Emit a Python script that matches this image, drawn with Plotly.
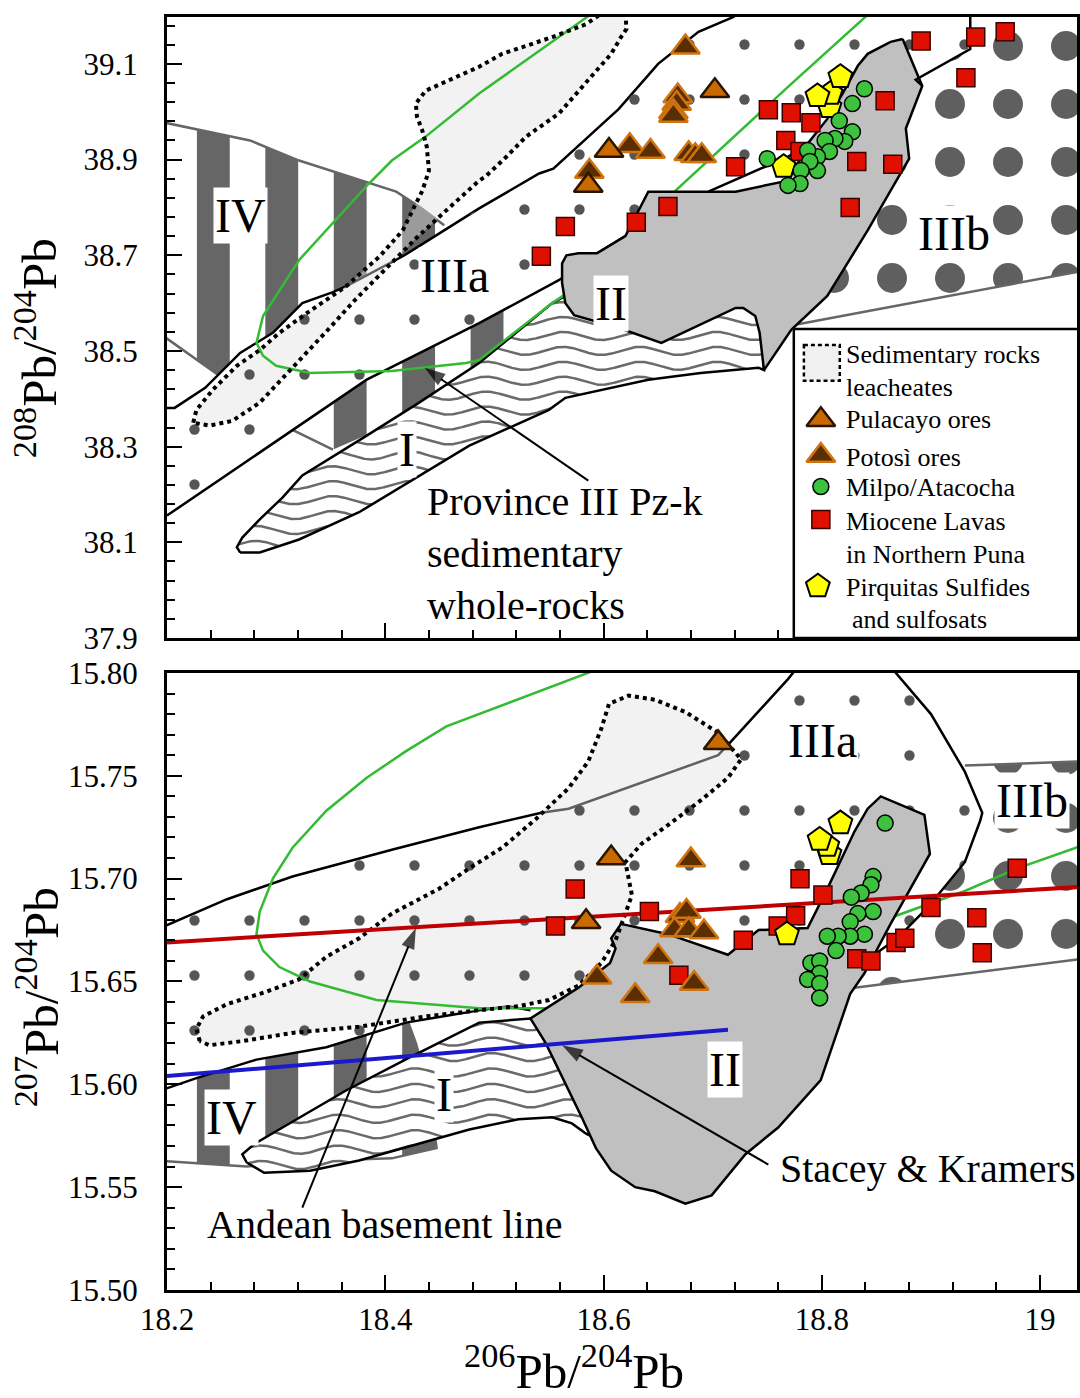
import numpy as np
import plotly.graph_objects as go

SERIF = "Liberation Serif"

# ---------------- axes ----------------
X_RANGE = [18.2, 19.0338]
Y208_RANGE = [37.9, 39.198]
Y207_RANGE = [15.5, 15.8]

# ============ 208Pb/204Pb panel : province outlines ============
IV_A_X = [18.19, 18.276, 18.321, 18.388, 18.410, 18.431, 18.454, 18.522, 18.513, 18.477, 18.431, 18.352, 18.248, 18.19]
IV_A_Y = [38.981, 38.940, 38.898, 38.850, 38.833, 38.802, 38.763, 38.600, 38.485, 38.433, 38.371, 38.294, 38.448, 38.542]
IV_A_TOP_X = [18.19, 18.276, 18.321, 18.388, 18.410, 18.431, 18.454]
IV_A_TOP_Y = [38.981, 38.940, 38.898, 38.850, 38.833, 38.802, 38.763]
IV_A_LOW_X = [18.19, 18.248, 18.315, 18.352]
IV_A_LOW_Y = [38.542, 38.448, 38.335, 38.294]

IIIB_A_X = [18.755, 18.784, 19.038, 19.038, 18.936, 18.936, 18.886, 18.860, 18.815, 18.769]
IIIB_A_Y = [38.517, 38.563, 38.667, 39.215, 39.215, 39.131, 39.067, 38.975, 38.808, 38.600]
IIIB_A_LOW_X = [18.778, 19.038]
IIIB_A_LOW_Y = [38.556, 38.667]

IIIA_A_X = [18.200, 18.207, 18.235, 18.267, 18.297, 18.324, 18.352, 18.364, 18.416, 18.431, 18.486, 18.541,
            18.554, 18.614, 18.650, 18.687, 18.719, 18.728, 18.936, 18.936, 18.886, 18.833, 18.778, 18.696,
            18.641, 18.623, 18.594, 18.559, 18.486, 18.383, 18.315, 18.200]
IIIA_A_Y = [38.381, 38.381, 38.423, 38.496, 38.538, 38.600, 38.623, 38.635, 38.698, 38.719, 38.798, 38.871,
            38.881, 39.006, 39.100, 39.167, 39.198, 39.215, 39.215, 39.131, 39.067, 39.017, 38.917, 38.833,
            38.808, 38.725, 38.704, 38.648, 38.558, 38.440, 38.335, 38.156]
LINE_A_X = IIIA_A_X[:18]
LINE_A_Y = IIIA_A_Y[:18]
LINE_B_X = [18.200, 18.315, 18.383, 18.486, 18.559, 18.594, 18.620]
LINE_B_Y = [38.156, 38.335, 38.440, 38.558, 38.648, 38.704, 38.740]
LINE_B2_X = [18.696, 18.769, 18.778]
LINE_B2_Y = [38.833, 38.906, 38.917]
IIIA_IIIB_A_X = [18.936, 18.936, 18.886, 18.892]
IIIA_IIIB_A_Y = [39.215, 39.131, 39.067, 39.054]

SED_A_X = [18.224, 18.227, 18.242, 18.264, 18.285, 18.303, 18.328, 18.364, 18.395, 18.416, 18.425, 18.434,
           18.440, 18.438, 18.434, 18.429, 18.428, 18.437, 18.486, 18.507, 18.553, 18.584, 18.600, 18.620,
           18.621, 18.616, 18.607, 18.586, 18.559, 18.529, 18.511, 18.492, 18.486, 18.456, 18.428, 18.401,
           18.372, 18.349, 18.315, 18.285, 18.260, 18.239]
SED_A_Y = [38.350, 38.377, 38.419, 38.469, 38.502, 38.538, 38.579, 38.635, 38.698, 38.752, 38.794, 38.835,
           38.877, 38.927, 38.960, 38.990, 39.017, 39.044, 39.094, 39.121, 39.156, 39.183, 39.208, 39.208,
           39.173, 39.156, 39.121, 39.065, 38.996, 38.948, 38.906, 38.865, 38.856, 38.794, 38.735, 38.673,
           38.606, 38.548, 38.465, 38.392, 38.354, 38.344]

I_A_X = [18.267, 18.264, 18.269, 18.285, 18.306, 18.324, 18.383, 18.431, 18.486, 18.553, 18.565, 18.632,
         18.723, 18.746, 18.747, 18.742, 18.689, 18.641, 18.565, 18.550, 18.477, 18.376, 18.321, 18.285]
I_A_Y = [38.079, 38.090, 38.110, 38.148, 38.194, 38.240, 38.323, 38.392, 38.475, 38.600, 38.615, 38.642,
         38.642, 38.600, 38.460, 38.465, 38.454, 38.440, 38.402, 38.377, 38.302, 38.163, 38.106, 38.079]

II_A_X = [18.874, 18.892, 18.877, 18.880, 18.863, 18.842, 18.805, 18.772, 18.747, 18.743, 18.739, 18.728,
          18.721, 18.687, 18.653, 18.614, 18.573, 18.565, 18.562, 18.562, 18.566, 18.577, 18.594, 18.620,
          18.641, 18.696, 18.721, 18.769, 18.778, 18.787, 18.805, 18.819, 18.833, 18.842, 18.863]
II_A_Y = [39.152, 39.054, 38.965, 38.902, 38.835, 38.752, 38.615, 38.544, 38.460, 38.538, 38.573, 38.590,
          38.590, 38.554, 38.517, 38.548, 38.575, 38.600, 38.642, 38.683, 38.700, 38.704, 38.704, 38.740,
          38.833, 38.833, 38.833, 38.856, 38.892, 38.933, 38.985, 39.038, 39.096, 39.121, 39.146]

GREEN_A_X = [18.591, 18.486, 18.437, 18.406, 18.385, 18.352, 18.321, 18.288, 18.282, 18.288, 18.300, 18.331,
             18.406, 18.474, 18.486, 18.553, 18.614, 18.666, 18.769, 18.848]
GREEN_A_Y = [39.208, 39.038, 38.948, 38.898, 38.850, 38.767, 38.690, 38.573, 38.517, 38.490, 38.469, 38.454,
             38.458, 38.475, 38.481, 38.600, 38.694, 38.835, 39.052, 39.215]

# ============ 207Pb/204Pb panel : province outlines ============
IV_B_X = [18.19, 18.417, 18.428, 18.440, 18.447, 18.406, 18.346, 18.273, 18.19]
IV_B_Y = [15.609, 15.636, 15.620, 15.597, 15.569, 15.564, 15.563, 15.560, 15.563]
IV_B_EDGE_X = [18.19, 18.273, 18.346, 18.406, 18.447, 18.440, 18.428, 18.417]
IV_B_EDGE_Y = [15.563, 15.560, 15.563, 15.564, 15.569, 15.597, 15.620, 15.636]

IIIB_B_X = [18.931, 18.947, 18.945, 18.931, 18.897, 18.869, 18.842, 18.819, 18.830, 19.038, 19.038]
IIIB_B_Y = [15.755, 15.732, 15.728, 15.708, 15.686, 15.671, 15.667, 15.648, 15.647, 15.661, 15.757]
IIIB_B_UP_X = [18.931, 19.038]
IIIB_B_UP_Y = [15.755, 15.757]
IIIB_B_LOW_X = [18.830, 19.038]
IIIB_B_LOW_Y = [15.647, 15.661]

IIIA_B_X = [18.194, 18.255, 18.315, 18.364, 18.406, 18.486, 18.543, 18.568, 18.705, 18.714, 18.769, 18.778,
            18.863, 18.863, 18.900, 18.931, 18.947, 18.945, 18.931, 18.897, 18.869, 18.848, 18.796, 18.595,
            18.533, 18.513, 18.486, 18.419, 18.346, 18.282, 18.227, 18.194]
IIIA_B_Y = [15.676, 15.690, 15.701, 15.708, 15.714, 15.725, 15.732, 15.734, 15.760, 15.765, 15.797, 15.803,
            15.803, 15.8005, 15.780, 15.752, 15.732, 15.728, 15.708, 15.686, 15.671, 15.663, 15.645, 15.616,
            15.632, 15.638, 15.636, 15.630, 15.618, 15.612, 15.603, 15.597]
IIIA_B_UPPER_X = IIIA_B_X[:12]
IIIA_B_UPPER_Y = IIIA_B_Y[:12]
IIIA_B_RIGHT_X = [18.863, 18.900, 18.931, 18.947, 18.945, 18.931, 18.897, 18.869, 18.848]
IIIA_B_RIGHT_Y = [15.803, 15.780, 15.752, 15.732, 15.728, 15.708, 15.686, 15.671, 15.663]
IIIA_B_LOWER_X = [18.194, 18.227, 18.282, 18.346, 18.419, 18.486, 18.513, 18.533]
IIIA_B_LOWER_Y = [15.597, 15.603, 15.612, 15.618, 15.630, 15.636, 15.638, 15.636]

SED_B_X = [18.230, 18.227, 18.233, 18.255, 18.291, 18.321, 18.346, 18.376, 18.406, 18.449, 18.477, 18.507,
           18.538, 18.568, 18.586, 18.598, 18.605, 18.623, 18.647, 18.675, 18.705, 18.726, 18.714, 18.689,
           18.659, 18.635, 18.620, 18.623, 18.626, 18.620, 18.611, 18.598, 18.577, 18.550, 18.522, 18.486,
           18.437, 18.376, 18.315, 18.269, 18.239]
SED_B_Y = [15.621, 15.627, 15.633, 15.639, 15.645, 15.651, 15.662, 15.671, 15.683, 15.695, 15.705, 15.715,
           15.729, 15.744, 15.757, 15.773, 15.785, 15.789, 15.787, 15.781, 15.771, 15.758, 15.749, 15.738,
           15.726, 15.717, 15.708, 15.700, 15.692, 15.683, 15.670, 15.659, 15.648, 15.641, 15.638, 15.636,
           15.633, 15.628, 15.625, 15.621, 15.619]

I_B_X = [18.273, 18.269, 18.280, 18.315, 18.364, 18.422, 18.486, 18.533, 18.559, 18.586, 18.588, 18.584,
         18.571, 18.553, 18.522, 18.477, 18.437, 18.376, 18.331, 18.289]
I_B_Y = [15.562, 15.566, 15.571, 15.582, 15.597, 15.613, 15.630, 15.632, 15.616, 15.592, 15.575, 15.576,
         15.581, 15.584, 15.583, 15.578, 15.572, 15.563, 15.558, 15.557]

II_B_X = [18.616, 18.659, 18.714, 18.742, 18.787, 18.805, 18.830, 18.842, 18.854, 18.894, 18.899, 18.881,
          18.863, 18.848, 18.839, 18.826, 18.799, 18.760, 18.730, 18.699, 18.675, 18.647, 18.629, 18.607,
          18.593, 18.580, 18.565, 18.547, 18.533, 18.577, 18.606, 18.611, 18.607]
II_B_Y = [15.678, 15.673, 15.663, 15.675, 15.676, 15.695, 15.723, 15.734, 15.740, 15.731, 15.712, 15.695,
          15.678, 15.663, 15.654, 15.644, 15.602, 15.579, 15.566, 15.546, 15.542, 15.548, 15.550, 15.558,
          15.569, 15.584, 15.600, 15.620, 15.632, 15.647, 15.659, 15.666, 15.671]

GREEN_B_X = [18.593, 18.477, 18.456, 18.419, 18.383, 18.346, 18.315, 18.297, 18.285, 18.282, 18.288, 18.303,
             18.331, 18.392, 18.486, 18.553, 18.641, 18.760, 18.863, 18.931, 18.979, 19.038]
GREEN_B_Y = [15.8015, 15.778, 15.774, 15.762, 15.749, 15.733, 15.715, 15.700, 15.684, 15.673, 15.665, 15.657,
             15.650, 15.641, 15.637, 15.637, 15.645, 15.660, 15.681, 15.694, 15.705, 15.716]

# reference growth lines (207 panel)
ANDEAN_X = [18.2, 19.1]
ANDEAN_Y = [15.669, 15.698]
STACEY_X = [18.2, 18.714]
STACEY_Y = [15.604, 15.6265]

# ============ samples ============
PULACAYO_A_X = [18.702, 18.605, 18.586]
PULACAYO_A_Y = [39.044, 38.919, 38.846]
POTOSI_A_X = [18.675, 18.668, 18.667, 18.664, 18.664, 18.624, 18.643, 18.678, 18.684, 18.690, 18.587]
POTOSI_A_Y = [39.135, 39.033, 39.017, 39.000, 38.992, 38.929, 38.917, 38.912, 38.908, 38.908, 38.875]
MILPO_A_X = [18.839, 18.828, 18.816, 18.828, 18.821, 18.812, 18.803, 18.807, 18.796, 18.787, 18.796, 18.789,
             18.781, 18.780, 18.769, 18.750]
MILPO_A_Y = [39.048, 39.017, 38.981, 38.958, 38.938, 38.944, 38.940, 38.917, 38.906, 38.919, 38.877, 38.896,
             38.877, 38.850, 38.846, 38.902]
LAVAS_A_X = [18.751, 18.772, 18.790, 18.767, 18.780, 18.721, 18.659, 18.630, 18.565, 18.543, 18.832, 18.865,
             18.826, 18.858, 18.891, 18.932, 18.941, 18.968]
LAVAS_A_Y = [39.004, 38.998, 38.977, 38.940, 38.917, 38.885, 38.802, 38.769, 38.760, 38.698, 38.896, 38.890,
             38.800, 39.023, 39.148, 39.071, 39.156, 39.167]
PIRQ_A_X = [18.807, 18.808, 18.796, 18.817, 18.765]
PIRQ_A_Y = [39.010, 39.038, 39.033, 39.073, 38.885]

PULACAYO_B_X = [18.705, 18.607, 18.584]
PULACAYO_B_Y = [15.766, 15.710, 15.679]
POTOSI_B_X = [18.680, 18.670, 18.676, 18.665, 18.678, 18.692, 18.650, 18.594, 18.629, 18.683]
POTOSI_B_Y = [15.709, 15.682, 15.684, 15.675, 15.675, 15.674, 15.662, 15.652, 15.643, 15.649]
MILPO_B_X = [18.858, 18.847, 18.845, 18.836, 18.827, 18.847, 18.833, 18.826, 18.839, 18.826, 18.815, 18.805,
             18.813, 18.790, 18.798, 18.798, 18.787, 18.798, 18.798]
MILPO_B_Y = [15.727, 15.701, 15.697, 15.693, 15.691, 15.684, 15.683, 15.679, 15.673, 15.672, 15.672, 15.672,
             15.665, 15.659, 15.660, 15.654, 15.651, 15.649, 15.642]
LAVAS_B_X = [18.574, 18.556, 18.642, 18.669, 18.728, 18.760, 18.776, 18.780, 18.801, 18.832, 18.845, 18.868,
             18.876, 18.900, 18.942, 18.947, 18.979]
LAVAS_B_Y = [15.695, 15.677, 15.684, 15.653, 15.670, 15.677, 15.682, 15.700, 15.692, 15.661, 15.660, 15.669,
             15.671, 15.686, 15.681, 15.664, 15.705]
PIRQ_B_X = [18.807, 18.805, 18.798, 18.817, 18.768]
PIRQ_B_Y = [15.712, 15.716, 15.719, 15.727, 15.673]

# annotation arrows: (tail x, tail y, head x, head y)
ARROW_PROVINCE = (18.586, 38.229, 18.436, 38.465)
ARROW_ANDEAN = (18.324, 15.540, 18.428, 15.676)
ARROW_STACEY = (18.751, 15.561, 18.562, 15.619)

# marker styles
STYLE_PULACAYO = dict(symbol="triangle-up", size=25, color="#c86a00", line=dict(color="#2a1500", width=2.5))
STYLE_POTOSI = dict(symbol="triangle-up", size=25, color="#5a2e00", line=dict(color="#d07410", width=2.5))
STYLE_MILPO = dict(symbol="circle", size=16, color="#3cc23c", line=dict(color="black", width=1.5))
STYLE_LAVAS = dict(symbol="square", size=18, color="#e01000", line=dict(color="#3a0000", width=1.5))
STYLE_PIRQ = dict(symbol="pentagon", size=25, color="#ffff00", line=dict(color="black", width=2))

fig = go.Figure()


def inside_polygon(x, y, px, py):
    res = np.zeros(len(x), dtype=bool)
    j = len(px) - 1
    for i in range(len(px)):
        xi, yi, xj, yj = px[i], py[i], px[j], py[j]
        crosses = (yi > y) != (yj > y)
        with np.errstate(divide="ignore", invalid="ignore"):
            xint = (xj - xi) * (y - yi) / (yj - yi) + xi
        res ^= crosses & (x < xint)
        j = i
    return res


def wave_hatch(px, py, period, spacing, amp):
    """Horizontal wavy hatch lines clipped to a polygon."""
    px = np.asarray(px, float)
    py = np.asarray(py, float)
    xs = np.linspace(px.min(), px.max(), 900)
    out_x, out_y = [], []
    for level in np.arange(py.min() + spacing * 0.5, py.max(), spacing):
        ys = level + amp * np.sin(2 * np.pi * (xs - px.min()) / period)
        mask = inside_polygon(xs, ys, px, py)
        prev = False
        for xv, yv, m in zip(xs, ys, mask):
            if m:
                out_x.append(float(xv))
                out_y.append(float(yv))
            elif prev:
                out_x.append(None)
                out_y.append(None)
            prev = m
        if prev:
            out_x.append(None)
            out_y.append(None)
    return out_x, out_y


def stripe_bars(px, py, x0, period, width, nsamp=14):
    """Vertical bar hatch: each bar is the polygon's vertical extent over [xl, xl+width]."""
    px = list(px)
    py = list(py)
    n = len(px)
    out_x, out_y = [], []
    xl = x0
    while xl < max(px):
        xv, tops, bots = [], [], []
        for x in np.linspace(xl, xl + width, nsamp):
            hits = []
            for i in range(n):
                j = (i + 1) % n
                if px[i] != px[j] and (px[i] - x) * (px[j] - x) <= 0:
                    hits.append(py[i] + (x - px[i]) * (py[j] - py[i]) / (px[j] - px[i]))
            if len(hits) >= 2:
                xv.append(float(x))
                tops.append(max(hits))
                bots.append(min(hits))
        if xv:
            out_x += xv + xv[::-1] + [None]
            out_y += tops + bots[::-1] + [None]
        xl += period
    return out_x, out_y


def area(xs, ys, ax, **kw):
    fig.add_trace(go.Scatter(x=list(xs) + [xs[0]], y=list(ys) + [ys[0]], xaxis=ax[0], yaxis=ax[1],
                             mode="lines", fill="toself", hoverinfo="skip", showlegend=False, **kw))


def path(xs, ys, ax, color="black", width=2.5, dash=None):
    fig.add_trace(go.Scatter(x=xs, y=ys, xaxis=ax[0], yaxis=ax[1], mode="lines", hoverinfo="skip",
                             showlegend=False, line=dict(color=color, width=width, dash=dash)))


def points(xs, ys, ax, style):
    fig.add_trace(go.Scatter(x=xs, y=ys, xaxis=ax[0], yaxis=ax[1], mode="markers", hoverinfo="skip",
                             showlegend=False, marker=style, cliponaxis=False))


def arrow(spec, ax):
    tx, ty, hx, hy = spec
    fig.add_trace(go.Scatter(x=[tx, hx], y=[ty, hy], xaxis=ax[0], yaxis=ax[1], mode="lines+markers",
                             hoverinfo="skip", showlegend=False, line=dict(color="black", width=2),
                             marker=dict(symbol="arrow", size=[0, 22], angleref="previous", color="black",
                                         line=dict(width=0))))


BAR_X0, BAR_PERIOD, BAR_WIDTH = 18.2274, 0.0627, 0.0301
BIG_DOTS = dict(shape=".", size=58, solidity=0.21, fgcolor="#5f5f5f", bgcolor="white", fgopacity=1)
SMALL_DOTS = dict(shape=".", size=55, solidity=0.028, fgcolor="#555555", bgcolor="rgba(0,0,0,0)",
                  fillmode="overlay", fgopacity=1)
SED_FILL = "rgba(225,225,225,0.43)"
NOLINE = dict(width=0)
BAR_GRAY = "#666666"

# ---------------- 208Pb/204Pb panel ----------------
A = ("x", "y")
bx, by = stripe_bars(IV_A_X, IV_A_Y, BAR_X0, BAR_PERIOD, BAR_WIDTH)
area(bx, by, A, fillcolor=BAR_GRAY, line=NOLINE)
path(IV_A_TOP_X, IV_A_TOP_Y, A, color="#666666", width=2.5)
path(IV_A_LOW_X, IV_A_LOW_Y, A, color="#666666", width=2.5)
area(IIIB_A_X, IIIB_A_Y, A, fillcolor="white", fillpattern=BIG_DOTS, line=NOLINE)
path(IIIB_A_LOW_X, IIIB_A_LOW_Y, A, color="#666666", width=2.5)
area(IIIA_A_X, IIIA_A_Y, A, fillcolor="white", line=NOLINE)
path(LINE_A_X, LINE_A_Y, A)
path(LINE_B_X, LINE_B_Y, A)
area(SED_A_X, SED_A_Y, A, fillcolor=SED_FILL, line=NOLINE)
area(IIIA_A_X, IIIA_A_Y, A, fillcolor="rgba(0,0,0,0)", fillpattern=SMALL_DOTS, line=NOLINE)
area(I_A_X, I_A_Y, A, fillcolor="white", line=NOLINE)
wx, wy = wave_hatch(I_A_X, I_A_Y, 0.0703, 0.0312, 0.0085)
path(wx, wy, A, color="#6a6a6a", width=2.5)
path(I_A_X + [I_A_X[0]], I_A_Y + [I_A_Y[0]], A)
path(GREEN_A_X, GREEN_A_Y, A, color="#33bb33", width=2.5)
area(II_A_X, II_A_Y, A, fillcolor="#c0c0c0", line=dict(color="black", width=2.5))
path(SED_A_X + [SED_A_X[0]], SED_A_Y + [SED_A_Y[0]], A, width=4, dash="4px,4px")
path(LINE_B2_X, LINE_B2_Y, A)
path(IIIA_IIIB_A_X, IIIA_IIIB_A_Y, A)
arrow(ARROW_PROVINCE, A)
points(LAVAS_A_X, LAVAS_A_Y, A, STYLE_LAVAS)
points(POTOSI_A_X, POTOSI_A_Y, A, STYLE_POTOSI)
points(PULACAYO_A_X, PULACAYO_A_Y, A, STYLE_PULACAYO)
points(PIRQ_A_X, PIRQ_A_Y, A, STYLE_PIRQ)
points(MILPO_A_X, MILPO_A_Y, A, STYLE_MILPO)

# ---------------- 207Pb/204Pb panel ----------------
B = ("x2", "y2")
bx, by = stripe_bars(IV_B_X, IV_B_Y, BAR_X0, BAR_PERIOD, BAR_WIDTH)
area(bx, by, B, fillcolor=BAR_GRAY, line=NOLINE)
path(IV_B_EDGE_X, IV_B_EDGE_Y, B, color="#666666", width=2.5)
area(IIIB_B_X, IIIB_B_Y, B, fillcolor="white", fillpattern=BIG_DOTS, line=NOLINE)
path(IIIB_B_UP_X, IIIB_B_UP_Y, B, color="#666666", width=2.5)
path(IIIB_B_LOW_X, IIIB_B_LOW_Y, B, color="#666666", width=2.5)
area(IIIA_B_X, IIIA_B_Y, B, fillcolor="white", line=NOLINE)
path(IIIA_B_UPPER_X, IIIA_B_UPPER_Y, B)
path(IIIA_B_LOWER_X, IIIA_B_LOWER_Y, B)
area(SED_B_X, SED_B_Y, B, fillcolor=SED_FILL, line=NOLINE)
area(IIIA_B_X, IIIA_B_Y, B, fillcolor="rgba(0,0,0,0)", fillpattern=SMALL_DOTS, line=NOLINE)
area(I_B_X, I_B_Y, B, fillcolor="white", line=NOLINE)
wx, wy = wave_hatch(I_B_X, I_B_Y, 0.0703, 0.0075, 0.0020)
path(wx, wy, B, color="#6a6a6a", width=2.5)
path(I_B_X + [I_B_X[0]], I_B_Y + [I_B_Y[0]], B)
path(GREEN_B_X, GREEN_B_Y, B, color="#33bb33", width=2.5)
area(II_B_X, II_B_Y, B, fillcolor="#c0c0c0", line=dict(color="black", width=2.5))
path(SED_B_X + [SED_B_X[0]], SED_B_Y + [SED_B_Y[0]], B, width=4, dash="4px,4px")
path(IIIA_B_RIGHT_X, IIIA_B_RIGHT_Y, B)
path(STACEY_X, STACEY_Y, B, color="#1a1acc", width=4)
path(ANDEAN_X, ANDEAN_Y, B, color="#c00000", width=4)
arrow(ARROW_ANDEAN, B)
arrow(ARROW_STACEY, B)
points(LAVAS_B_X, LAVAS_B_Y, B, STYLE_LAVAS)
points(POTOSI_B_X, POTOSI_B_Y, B, STYLE_POTOSI)
points(PULACAYO_B_X, PULACAYO_B_Y, B, STYLE_PULACAYO)
points(PIRQ_B_X, PIRQ_B_Y, B, STYLE_PIRQ)
points(MILPO_B_X, MILPO_B_Y, B, STYLE_MILPO)

# ---------------- key (drawn on its own layout axis, pixel-like units) ----------------
L = ("x3", "y3")
KEY_X = 823
points([KEY_X], [417], L, STYLE_PULACAYO)
points([KEY_X], [453], L, STYLE_POTOSI)
points([KEY_X], [484], L, STYLE_MILPO)
points([KEY_X], [517], L, STYLE_LAVAS)
points([KEY_X - 3], [584], L, STYLE_PIRQ)
KEY_TEXT = [("Sedimentary rocks", 846, 352), ("leacheates", 846, 385), ("Pulacayo ores", 846, 417),
            ("Potosì ores", 846, 455), ("Milpo/Atacocha", 846, 485), ("Miocene Lavas", 846, 519),
            ("in Northern Puna", 846, 552), ("Pirquitas Sulfides", 846, 585), ("and sulfosats", 852, 617)]

annotations = []
for txt, kx, ky in KEY_TEXT:
    annotations.append(dict(text=txt, x=kx, y=ky, xref="x3", yref="y3", showarrow=False, xanchor="left",
                            yanchor="middle", font=dict(family=SERIF, size=26, color="black")))

# region labels
LABEL_FONT = dict(family=SERIF, size=48, color="black")
REGION_LABELS = [("IV", 18.267, 38.783, "x", "y"), ("IIIa", 18.463, 38.658, "x", "y"),
                 ("II", 18.607, 38.600, "x", "y"), ("I", 18.420, 38.294, "x", "y"),
                 ("IIIb", 18.921, 38.746, "x", "y"),
                 ("IIIa", 18.801, 15.767, "x2", "y2"), ("IIIb", 18.993, 15.738, "x2", "y2"),
                 ("II", 18.711, 15.607, "x2", "y2"), ("I", 18.454, 15.595, "x2", "y2"),
                 ("IV", 18.259, 15.584, "x2", "y2")]
for txt, lx, ly, xr, yr in REGION_LABELS:
    annotations.append(dict(text=txt, x=lx, y=ly, xref=xr, yref=yr, showarrow=False, font=LABEL_FONT,
                            bgcolor="white", borderpad=1))

NOTE_FONT = dict(family=SERIF, size=40, color="black")
TITLE_FONT = dict(family=SERIF, size=49, color="black")
annotations += [
    dict(text="Province III Pz-k<br>sedimentary<br>whole-rocks", x=18.436, y=38.077, xref="x", yref="y",
         showarrow=False, xanchor="left", yanchor="middle", align="left", font=NOTE_FONT),
    dict(text="Andean basement line", x=18.235, y=15.532, xref="x2", yref="y2", showarrow=False,
         xanchor="left", yanchor="middle", font=NOTE_FONT),
    dict(text="Stacey &amp; Kramers", x=18.760, y=15.559, xref="x2", yref="y2", showarrow=False,
         xanchor="left", yanchor="middle", font=NOTE_FONT),
    # axis titles
    dict(text="<sup>206</sup>Pb/<sup>204</sup>Pb", x=0.4469, y=-0.0610, xref="paper", yref="paper",
         showarrow=False, xanchor="center", yanchor="middle", font=TITLE_FONT),
    dict(text="<sup>208</sup>Pb/<sup>204</sup>Pb", x=-0.1435, y=0.7401, xref="paper", yref="paper",
         showarrow=False, xanchor="center", yanchor="middle", textangle=-90, font=TITLE_FONT),
    dict(text="<sup>207</sup>Pb/<sup>204</sup>Pb", x=-0.1413, y=0.2302, xref="paper", yref="paper",
         showarrow=False, xanchor="center", yanchor="middle", textangle=-90, font=TITLE_FONT),
]

shapes = [
    # key frame
    dict(type="rect", xref="paper", yref="paper", x0=0.6888, x1=1.02, y0=0.5121, y1=0.7549,
         line=dict(color="black", width=2.5), fillcolor="rgba(0,0,0,0)", layer="above"),
    # key swatch for leachate field
    dict(type="rect", xref="x3", yref="y3", x0=806, x1=842, y0=342, y1=378, fillcolor="#f0f0f0",
         line=dict(color="black", width=2.5, dash="4px,3px"), layer="above"),
]

TICK_FONT = dict(family=SERIF, size=31, color="black")
common_x = dict(range=X_RANGE, showgrid=False, zeroline=False, showline=True, linecolor="black", linewidth=3,
                mirror=True, ticks="inside", ticklen=15, tickwidth=2, tickcolor="black", tick0=18.2, dtick=0.2,
                minor=dict(ticks="inside", ticklen=8, tickwidth=2, tickcolor="black", dtick=0.04, tick0=18.2),
                tickfont=TICK_FONT)
common_y = dict(showgrid=False, zeroline=False, showline=True, linecolor="black", linewidth=3, mirror=True,
                ticks="inside", ticklen=15, tickwidth=2, tickcolor="black", tickfont=TICK_FONT,
                ticklabelstandoff=20)

fig.update_layout(
    width=1080, height=1398, margin=dict(l=167, r=0, t=13, b=108),
    paper_bgcolor="white", plot_bgcolor="white", showlegend=False,
    font=dict(family=SERIF, color="black"),
    xaxis=dict(domain=[0, 1], anchor="y", showticklabels=False, **common_x),
    xaxis2=dict(domain=[0, 1], anchor="y2", showticklabels=True, **common_x),
    yaxis=dict(domain=[0.51214, 1], anchor="x", range=Y208_RANGE, tick0=37.9, dtick=0.2,
               minor=dict(ticks="inside", ticklen=8, tickwidth=2, tickcolor="black", dtick=0.04, tick0=37.9),
               **common_y),
    yaxis2=dict(domain=[0, 0.48473], anchor="x2", range=Y207_RANGE, tick0=15.5, dtick=0.05, tickformat=".2f",
                minor=dict(ticks="inside", ticklen=8, tickwidth=2, tickcolor="black", dtick=0.01, tick0=15.5),
                **common_y),
    xaxis3=dict(domain=[0.68784, 1], anchor="y3", range=[795, 1080], visible=False, fixedrange=True),
    yaxis3=dict(domain=[0.51214, 0.75568], anchor="x3", range=[636, 325], visible=False, fixedrange=True),
    annotations=annotations,
    shapes=shapes,
)

fig.write_html("out.html")
